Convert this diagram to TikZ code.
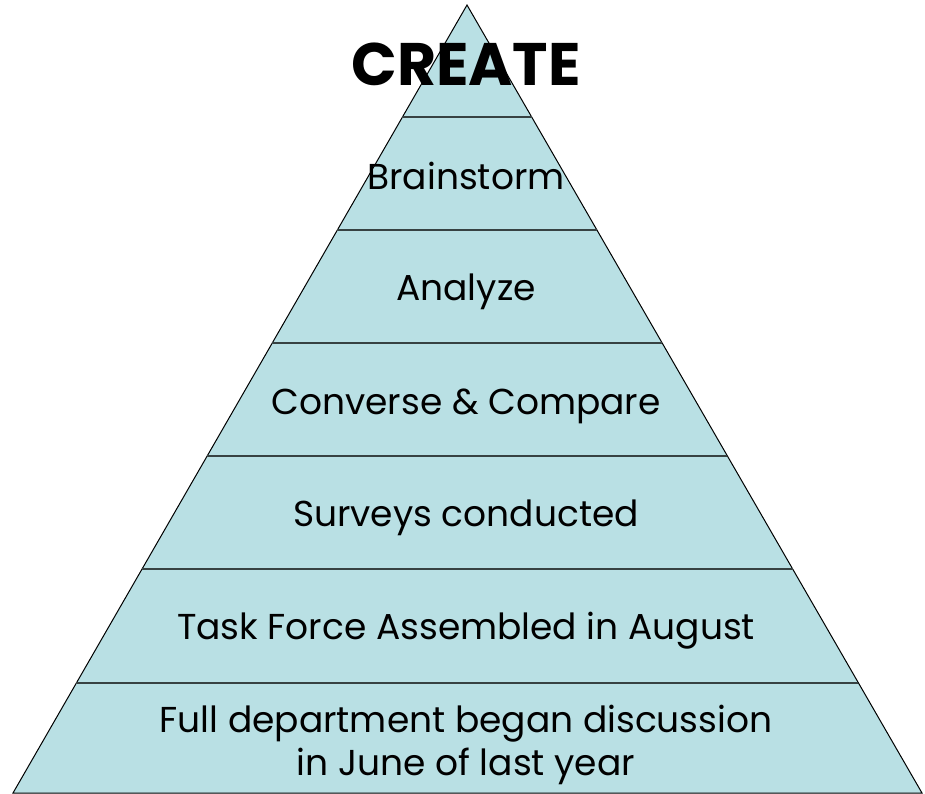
\documentclass[tikz,border=0pt]{standalone}
\usepackage{fontspec}
\setmainfont{Poppins}
\usetikzlibrary{calc}

\definecolor{pyrfill}{RGB}{185,224,228}
\definecolor{bandline}{RGB}{55,66,66}

\begin{document}
\begin{tikzpicture}[x=1pt,y=-1pt,
  stage/.style={anchor=base, inner sep=0pt, align=center,
    font=\fontsize{36}{43}\selectfont},
  band/.style={draw=bandline, line width=2.5pt}]

\useasboundingbox (0,0) rectangle (925,793);

\path (467,5) coordinate(A);
\path (13,793) coordinate(B);
\path (922,793) coordinate(C);

\draw [fill=pyrfill, line width=1pt] (A)--(B)--(C)--cycle;

% band edges, from top to bottom
\path ($(A)!0.1421!(B)$) coordinate(L1) ($(A)!0.1421!(C)$) coordinate(R1);
\path ($(A)!0.2855!(B)$) coordinate(L2) ($(A)!0.2855!(C)$) coordinate(R2);
\path ($(A)!0.4289!(B)$) coordinate(L3) ($(A)!0.4289!(C)$) coordinate(R3);
\path ($(A)!0.5723!(B)$) coordinate(L4) ($(A)!0.5723!(C)$) coordinate(R4);
\path ($(A)!0.7157!(B)$) coordinate(L5) ($(A)!0.7157!(C)$) coordinate(R5);
\path ($(A)!0.8604!(B)$) coordinate(L6) ($(A)!0.8604!(C)$) coordinate(R6);

\draw [band] (L1)--(R1);
\draw [band] (L2)--(R2);
\draw [band] (L3)--(R3);
\draw [band] (L4)--(R4);
\draw [band] (L5)--(R5);
\draw [band] (L6)--(R6);

\node [stage, font=\bfseries\fontsize{60}{70}\selectfont] (create) at (466,85) {CREATE};
\node [stage] (brain) at (466,189) {Brainstorm};
\node [stage] (analyze) at (466,300) {Analyze};
\node [stage] (converse) at (466,414) {Converse \& Compare};
\node [stage] (surveys) at (466,526) {Surveys conducted};
\node [stage] (task) at (466,639) {Task Force Assembled in August};
% last line sits on the base anchor
\node [stage] (full) at (466,775) {Full department began discussion\\in June of last year};

\end{tikzpicture}
\end{document}
